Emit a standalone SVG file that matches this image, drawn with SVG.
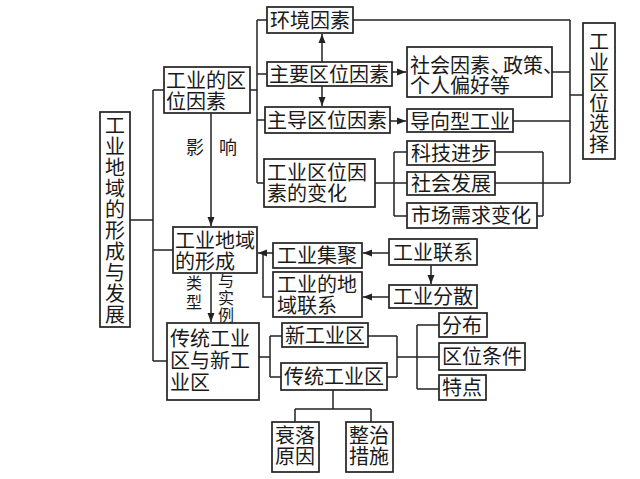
<svg xmlns="http://www.w3.org/2000/svg" width="640" height="479" viewBox="0 0 640 479">
<style>
rect{fill:#fff;stroke:#222;stroke-width:1.7}
.c path{fill:none;stroke:#222;stroke-width:1.5}
text{font-family:"Noto Sans CJK SC","Noto Sans CJK TC",sans-serif;font-size:20px;fill:#1a1a1a}
.s{font-size:16px;text-anchor:middle}
.v{font-size:20px;text-anchor:middle}
</style>
<defs>
<marker id="a" markerUnits="userSpaceOnUse" markerWidth="10" markerHeight="8" refX="9" refY="4" orient="auto"><path d="M0,0.5 L9,4 L0,7.5 Z" fill="#222"/></marker>
</defs>
<rect x="0" y="0" width="640" height="479" style="fill:#fff;stroke:none"/>
<g class="c" id="connectors">
<path d="M130,220 H153 M153,90 V361 M153,90 H164 M153,250 H173 M153,361 H167"/>
<path d="M250,90 H257 M257,20 V183 M257,20 H267 M257,74 H267 M257,120 H265 M257,183 H264"/>
<path d="M322,62 V34" marker-end="url(#a)"/>
<path d="M322,86 V106" marker-end="url(#a)"/>
<path d="M392,72 H406" marker-end="url(#a)"/>
<path d="M390,121 H406" marker-end="url(#a)"/>
<path d="M353,20 H570 M552,72 H570 M513,121 H570 M495,183 H570 M570,20 V183 M570,95 H583"/>
<path d="M375,183 H394 M394,152 V216 M394,152 H407 M394,183 H407 M394,216 H407"/>
<path d="M495,152 H543 M537,216 H543 M543,152 V216"/>
<path d="M211,113 V226" marker-end="url(#a)"/>
<path d="M211,273 V322" marker-end="url(#a)"/>
<path d="M389,253 H363" marker-end="url(#a)"/>
<path d="M431,265 V284" marker-end="url(#a)"/>
<path d="M389,297 H363" marker-end="url(#a)"/>
<path d="M273,253 H258" marker-end="url(#a)"/>
<path d="M263,253 V297 H273"/>
<path d="M259,357 H270 M270,336 V377 M270,336 H282 M270,377 H281"/>
<path d="M368,336 H397 M387,377 H397 M397,336 V377 M397,357 H417 M417,325 V389 M417,325 H439 M417,357 H439 M417,389 H439"/>
<path d="M333,390 V409 M295,409 H371 M295,409 V422 M371,409 V422"/>
</g>
<g id="labels">
<text x="195" y="154" style="font-size:18px" text-anchor="middle">影</text>
<text x="228" y="154" style="font-size:18px" text-anchor="middle">响</text>
<text class="s" x="194" y="289">类</text>
<text class="s" x="194" y="308">型</text>
<text class="s" x="226" y="287">与</text>
<text class="s" x="226" y="304">实</text>
<text class="s" x="226" y="321">例</text>
</g>
<g id="n-main"><rect x="100" y="112" width="30" height="215"/>
<text class="v" x="115" y="132.5">工</text><text class="v" x="115" y="153.5">业</text><text class="v" x="115" y="174.5">地</text><text class="v" x="115" y="195.5">域</text><text class="v" x="115" y="216.5">的</text><text class="v" x="115" y="237.5">形</text><text class="v" x="115" y="258.5">成</text><text class="v" x="115" y="279.5">与</text><text class="v" x="115" y="300.5">发</text><text class="v" x="115" y="321.5">展</text>
</g>
<g id="n-quwei"><rect x="164" y="67" width="86" height="46"/><text x="166" y="87.5">工业的区</text><text x="166" y="108.5">位因素</text></g>
<g id="n-huanjing"><rect x="267" y="7" width="86" height="26"/><text x="270" y="27.5">环境因素</text></g>
<g id="n-zhuyao"><rect x="267" y="62" width="125" height="24"/><text x="269" y="81.5">主要区位因素</text></g>
<g id="n-shehui"><rect x="407" y="47" width="145" height="50"/><text y="72.5"><tspan x="410">社会因素</tspan><tspan x="491">、</tspan><tspan x="503">政策</tspan><tspan x="543">、</tspan></text><text x="410" y="93">个人偏好等</text></g>
<g id="n-zhudao"><rect x="265" y="107" width="125" height="26"/><text x="267" y="127.5">主导区位因素</text></g>
<g id="n-daoxiang"><rect x="407" y="109" width="106" height="23"/><text x="410" y="128.5">导向型工业</text></g>
<g id="n-bianhua"><rect x="264" y="159" width="111" height="48"/><text x="267" y="180">工业区位因</text><text x="267" y="201">素的变化</text></g>
<g id="n-keji"><rect x="407" y="141" width="88" height="24"/><text x="411" y="160.5">科技进步</text></g>
<g id="n-fazhan"><rect x="407" y="172" width="88" height="23"/><text x="411" y="191">社会发展</text></g>
<g id="n-shichang"><rect x="407" y="203" width="130" height="25"/><text x="411" y="223">市场需求变化</text></g>
<g id="n-xuanze"><rect x="583" y="23" width="32" height="136"/>
<text class="v" x="599" y="49">工</text><text class="v" x="599" y="69.5">业</text><text class="v" x="599" y="90">区</text><text class="v" x="599" y="110.5">位</text><text class="v" x="599" y="131">选</text><text class="v" x="599" y="151.5">择</text>
</g>
<g id="n-xingcheng"><rect x="173" y="227" width="84" height="46"/><text x="175" y="247.5">工业地域</text><text x="175" y="268.5">的形成</text></g>
<g id="n-jiju"><rect x="273" y="243" width="89" height="25"/><text x="277" y="263">工业集聚</text></g>
<g id="n-diyu"><rect x="273" y="272" width="89" height="45"/><text x="277" y="292">工业的地</text><text x="277" y="312.5">域联系</text></g>
<g id="n-lianxi"><rect x="389" y="239" width="88" height="26"/><text x="393" y="259.5">工业联系</text></g>
<g id="n-fensan"><rect x="389" y="285" width="88" height="23"/><text x="393" y="304">工业分散</text></g>
<g id="n-chuantongxin"><rect x="167" y="323" width="92" height="77"/><text x="170" y="346">传统工业</text><text x="170" y="368">区与新工</text><text x="170" y="390">业区</text></g>
<g id="n-xin"><rect x="282" y="323" width="86" height="24"/><text x="285" y="342.5">新工业区</text></g>
<g id="n-chuantong"><rect x="281" y="363" width="106" height="27"/><text x="284" y="384">传统工业区</text></g>
<g id="n-fenbu"><rect x="439" y="313" width="48" height="24"/><text x="442" y="332.5">分布</text></g>
<g id="n-tiaojian"><rect x="439" y="343" width="86" height="27"/><text x="442" y="364">区位条件</text></g>
<g id="n-tedian"><rect x="439" y="375" width="47" height="25"/><text x="442" y="395">特点</text></g>
<g id="n-shuailuo"><rect x="272" y="422" width="47" height="50"/><text x="275" y="443">衰落</text><text x="275" y="464">原因</text></g>
<g id="n-zhengzhi"><rect x="346" y="422" width="47" height="50"/><text x="349" y="443">整治</text><text x="349" y="464">措施</text></g>
</svg>
